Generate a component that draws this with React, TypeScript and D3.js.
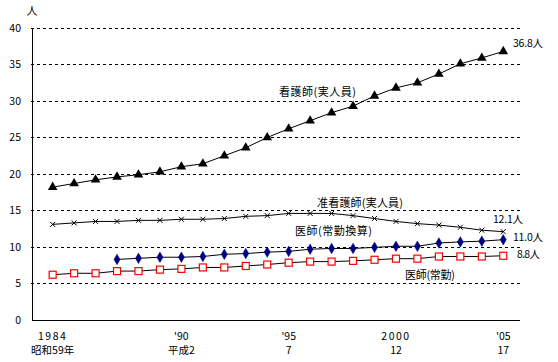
import React from "react";
import * as d3 from "d3";

const years = d3.range(1984, 2006);
const nurses = [18.2, 18.7, 19.2, 19.6, 19.9, 20.3, 21.0, 21.4, 22.5, 23.6, 25.0, 26.2, 27.3, 28.4, 29.3, 30.7, 31.8, 32.5, 33.7, 35.1, 35.9, 36.8];
const assocNurses = [13.1, 13.3, 13.5, 13.5, 13.65, 13.65, 13.8, 13.8, 13.9, 14.2, 14.3, 14.6, 14.6, 14.6, 14.3, 13.9, 13.5, 13.2, 13.0, 12.7, 12.3, 12.1];
const doctorsFteYears = d3.range(1987, 2006);
const doctorsFte = [8.3, 8.45, 8.6, 8.6, 8.7, 9.0, 9.1, 9.3, 9.4, 9.7, 9.8, 9.8, 9.95, 10.1, 10.1, 10.55, 10.7, 10.8, 11.0];
const doctorsFull = [6.2, 6.4, 6.4, 6.7, 6.7, 6.9, 7.0, 7.2, 7.2, 7.4, 7.6, 7.85, 8.0, 8.0, 8.1, 8.25, 8.4, 8.4, 8.7, 8.7, 8.7, 8.8];
const yTicks = [0, 5, 10, 15, 20, 25, 30, 35, 40];
const xTickYears = [1984, 1990, 1995, 2000, 2005];
const xTickLabels1 = ["1984", "'90", "'95", "2000", "'05"];
const xTickLabels2 = ["昭和59年", "平成2", "7", "12", "17"];

const FONT = "'Noto Sans CJK JP', 'Noto Sans', sans-serif";

export default function App() {
  const W = 558, H = 362;
  const x = d3.scaleLinear().domain([1983, 2005.78]).range([31.2, 520]);
  const y = d3.scaleLinear().domain([0, 40]).range([320, 28]);
  const line = d3.line<[number, number]>().x(d => x(d[0])).y(d => y(d[1]));
  const pts = (ys: number[], vs: number[]) => ys.map((yr, i) => [yr, vs[i]] as [number, number]);
  const nP = pts(years, nurses);
  const aP = pts(years, assocNurses);
  const fP = pts(doctorsFteYears, doctorsFte);
  const dP = pts(years, doctorsFull);
  const tri = d3.symbol(d3.symbolTriangle, 40)() as string;
  const dia = d3.symbol(d3.symbolDiamond, 32)() as string;
  const lab = (tx: number, ty: number, s: string, len: number, fs = 11) => (
    <text x={tx} y={ty} dy="0.35em" fontSize={fs} fill="#000" textLength={len} lengthAdjust="spacing">{s}</text>
  );
  return (
    <svg width={W} height={H} style={{ position: "absolute", left: 0, top: 0, background: "#fff" }} fontFamily={FONT}>
      <rect width={W} height={H} fill="#fff" />
      {yTicks.filter(t => t > 0).map(t => (
        <line key={t} x1={x(1983)} x2={520} y1={y(t)} y2={y(t)} stroke="#000" strokeWidth={1} strokeDasharray="3,3" shapeRendering="crispEdges" />
      ))}
      <line x1={32} x2={32} y1={y(40)} y2={y(0)} stroke="#000" shapeRendering="crispEdges" />
      <line x1={32} x2={520} y1={y(0)} y2={y(0)} stroke="#000" shapeRendering="crispEdges" />
      {yTicks.map(t => (
        <text key={t} x={21} y={y(t)} dy="0.35em" textAnchor="end" fontSize={10.5} fill="#000">{t}</text>
      ))}
      <text x={32} y={15} textAnchor="middle" fontSize={11} fill="#000">人</text>
      {xTickYears.map((yr, i) => (
        <g key={yr}>
          <text x={x(yr)} y={340} textAnchor="middle" fontSize={10.5} fill="#000" letterSpacing={i === 0 || i === 3 ? 1.5 : 0}>{xTickLabels1[i]}</text>
          <text x={x(yr)} y={354} textAnchor="middle" fontSize={10.5} fill="#000">{xTickLabels2[i]}</text>
        </g>
      ))}
      <path d={line(nP) as string} fill="none" stroke="#000" strokeWidth={1} />
      <path d={line(aP) as string} fill="none" stroke="#000" strokeWidth={1} />
      <path d={line(fP) as string} fill="none" stroke="#000" strokeWidth={1} />
      <path d={line(dP) as string} fill="none" stroke="#000" strokeWidth={1} />
      {nP.map((p, i) => (
        <path key={i} d={tri} transform={`translate(${x(p[0])},${y(p[1])})`} fill="#000" />
      ))}
      {aP.map((p, i) => (
        <g key={i} transform={`translate(${x(p[0])},${y(p[1])})`} stroke="#000" strokeWidth={1}>
          <line x1={-2.5} y1={-2.5} x2={2.5} y2={2.5} />
          <line x1={-2.5} y1={2.5} x2={2.5} y2={-2.5} />
        </g>
      ))}
      {fP.map((p, i) => (
        <path key={i} d={dia} transform={`translate(${x(p[0])},${y(p[1])})`} fill="#000080" stroke="#000080" strokeWidth={0.5} />
      ))}
      {dP.map((p, i) => (
        <rect key={i} x={x(p[0]) - 3.5} y={y(p[1]) - 3.5} width={7} height={7} fill="#fff" stroke="#ff0000" strokeWidth={1.2} />
      ))}
      {lab(513, 43, "36.8人", 30, 10.5)}
      {lab(279, 92, "看護師(実人員)", 77)}
      {lab(317, 203, "准看護師(実人員)", 86)}
      {lab(493, 219, "12.1人", 30, 10.5)}
      {lab(295, 231, "医師(常勤換算)", 77)}
      {lab(513, 237, "11.0人", 30, 10.5)}
      {lab(517, 254, "8.8人", 23, 10.5)}
      {lab(405, 275, "医師(常勤)", 50)}
    </svg>
  );
}
